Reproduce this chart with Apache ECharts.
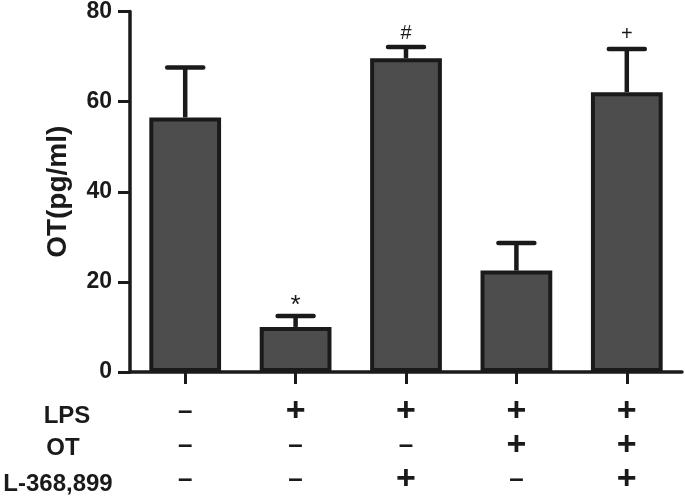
<!DOCTYPE html>
<html>
<head>
<meta charset="utf-8">
<script src="https://cdn.jsdelivr.net/npm/echarts@6/dist/echarts.min.js"></script>
<style>html,body{margin:0;padding:0;background:#fff}#c{width:685px;height:497px}</style>
</head>
<body>
<div id="c"></div>
<script>
// ---- data ----
const groups = ['G1', 'G2', 'G3', 'G4', 'G5'];
const means = [56.5, 10.0, 69.6, 22.5, 62.1];
const upper = [67.6, 12.4, 72.1, 28.6, 71.7];
const marks = ['', '*', '#', '', '+'];
const rowNames = ['LPS', 'OT', 'L-368,899'];
const lps = ['-', '+', '+', '+', '+'];
const ot = ['-', '-', '-', '+', '+'];
const l368 = ['-', '-', '+', '-', '+'];
const yTicks = [0, 20, 40, 60, 80];

const INK = '#1a1a1a';
const FONT = '"Liberation Sans", Arial, sans-serif';

function sign(s) {
  return s === '+' ? '{p|+}' : '{m|\u2013}';
}

const chart = echarts.init(document.getElementById('c'), null, { renderer: 'canvas' });
chart.setOption({
  animation: false,
  grid: { left: 130, right: 3, top: 11, bottom: 121, containLabel: false },
  xAxis: {
    type: 'category',
    data: groups,
    axisLine: { show: true, lineStyle: { color: INK, width: 3.5 } },
    axisTick: { show: true, alignWithLabel: true, length: 12, lineStyle: { color: INK, width: 3 } },
    axisLabel: {
      margin: 23,
      interval: 0,
      formatter: function (v, i) {
        return sign(lps[i]) + '\n' + sign(ot[i]) + '\n' + sign(l368[i]);
      },
      rich: {
        p: { fontFamily: FONT, fontSize: 34, fontWeight: 'bold', color: INK, lineHeight: 34 },
        m: { fontFamily: FONT, fontSize: 26, fontWeight: 'bold', color: INK, lineHeight: 34 }
      }
    },
    splitLine: { show: false }
  },
  yAxis: {
    type: 'value',
    min: yTicks[0],
    max: yTicks[yTicks.length - 1],
    interval: 20,
    name: 'OT(pg/ml)',
    nameLocation: 'middle',
    nameGap: 58,
    nameTextStyle: { fontFamily: FONT, fontSize: 28, fontWeight: 'bold', color: INK },
    axisLine: { show: true, lineStyle: { color: INK, width: 3.5 } },
    axisTick: { show: true, length: 12, lineStyle: { color: INK, width: 3 } },
    axisLabel: { margin: 18, fontFamily: FONT, fontSize: 23, fontWeight: 'bold', color: INK },
    splitLine: { show: false }
  },
  series: [
    {
      type: 'bar',
      data: means,
      barWidth: '65%',
      itemStyle: { color: '#4d4d4d', borderColor: INK, borderWidth: 4 },
      z: 2
    },
    {
      type: 'custom',
      z: 3,
      data: means.map((m, i) => [i, m, upper[i], marks[i]]),
      renderItem: function (params, api) {
        const i = api.value(0);
        const base = api.coord([i, api.value(1)]);
        const top = api.coord([i, api.value(2)]);
        const half = 18;
        const children = [
          { type: 'line', shape: { x1: base[0], y1: base[1], x2: top[0], y2: top[1] },
            style: { stroke: INK, lineWidth: 4.5 } },
          { type: 'line', shape: { x1: top[0] - half, y1: top[1], x2: top[0] + half, y2: top[1] },
            style: { stroke: INK, lineWidth: 4.5, lineCap: 'round' } }
        ];
        const mk = marks[params.dataIndex];
        if (mk) {
          const big = mk === '*';
          children.push({ type: 'text', x: top[0], y: top[1] - (big ? 10 : 14),
            style: { text: mk, fontFamily: FONT, fontSize: big ? 26 : 20, fill: INK, align: 'center', verticalAlign: 'middle' } });
        }
        return { type: 'group', children: children };
      }
    }
  ],
  graphic: rowNames.map((t, k) => ({
    type: 'text',
    x: [67, 63, 58][k], y: [416, 448, 484][k],
    style: { text: t, fontFamily: FONT, fontSize: 24, fontWeight: 'bold', fill: INK, align: 'center', verticalAlign: 'middle' }
  }))
});
</script>
</body>
</html>
